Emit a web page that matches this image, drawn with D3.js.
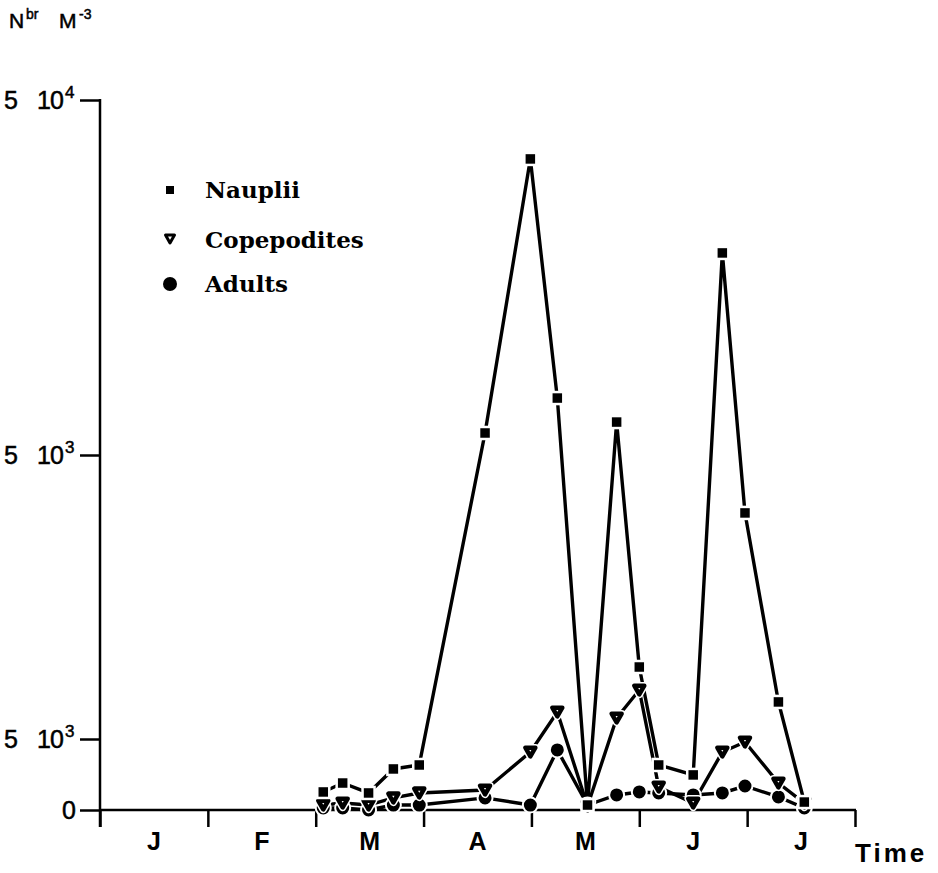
<!DOCTYPE html>
<html><head><meta charset="utf-8">
<script src="https://cdn.jsdelivr.net/npm/d3@7"></script>
<style>body{margin:0;background:#fff}</style>
</head><body>
<svg id="c" width="938" height="873"></svg>
<script>
const monthLabels = ["J","F","M","A","M","J","J"];
// sampling dates in fractional months from 1 January
const sampleTimes = [2.07,2.25,2.49,2.72,2.96,3.57,3.99,4.24,4.52,4.79,5.00,5.18,5.50,5.77,5.98,6.29,6.53];
const nauplii     = [1270,1900,1200,2890,3170,26550,45850,29010,350,27320,10070,3170,2470,39230,20920,7610,560];
const copepodites = [350,490,350,850,1200,1410,4080,6900,280,6480,8450,1620,490,4080,4790,1900,490];
const adults      = [140,140,0,350,350,850,350,4230,350,1060,1270,1200,1060,1200,1690,920,140];
const yTicks = [0,5000,25000,50000];
const yTickLabels = [["","0",""],["5","10","3"],["5","10","3"],["5","10","4"]];
const seriesNames = ["Nauplii","Copepodites","Adults"];

const svg = d3.select("#c");
const x = d3.scaleLinear().domain([0,7]).range([100,855]);
const y = d3.scaleLinear().domain([0,50000]).range([810,100]);
const sans = "'Liberation Sans', Arial, sans-serif";

// axes
const yAxis = d3.axisLeft(y).tickValues(yTicks).tickSize(20).tickFormat("");
const gy = svg.append("g").attr("transform","translate(100,0)").call(yAxis);
gy.select(".domain").remove();
gy.selectAll(".tick line").attr("stroke","#000").attr("stroke-width",2.5);
svg.append("line").attr("x1",100).attr("x2",100).attr("y1",y(50000)-1).attr("y2",827)
  .attr("stroke","#000").attr("stroke-width",2.5);

const xAxis = d3.axisBottom(x).tickValues(d3.range(0,8)).tickSize(17).tickFormat("");
const gx = svg.append("g").attr("transform","translate(0,810)").call(xAxis);
gx.select(".domain").remove();
gx.selectAll(".tick line").attr("stroke","#000").attr("stroke-width",2.5);
svg.append("line").attr("x1",100).attr("x2",x(7)+1).attr("y1",810).attr("y2",810)
  .attr("stroke","#000").attr("stroke-width",2.5);

// y tick labels
const lab = svg.append("g").attr("stroke","#000").attr("stroke-width",0.5);
yTicks.forEach((t,i)=>{
  const [a,b,c] = yTickLabels[i];
  const base = y(t)+9;
  if (a) lab.append("text").attr("x",4).attr("y",base).attr("font-family",sans).attr("font-size",25).text(a);
  if (c) {
    lab.append("text").attr("x",37).attr("y",base).attr("font-family",sans).attr("font-size",25)
      .attr("letter-spacing",-1).text(b);
    lab.append("text").attr("x",65).attr("y",base-11).attr("font-family",sans).attr("font-size",17).text(c);
  } else {
    lab.append("text").attr("x",76).attr("y",base).attr("text-anchor","end").attr("font-family",sans).attr("font-size",25).text(b);
  }
});

// month labels
monthLabels.forEach((m,i)=>{
  svg.append("text").attr("x",x(i+0.5)).attr("y",850).attr("text-anchor","middle")
    .attr("font-family",sans).attr("font-weight","bold").attr("font-size",25).text(m);
});
svg.append("text").attr("x",855).attr("y",862).attr("font-family",sans).attr("font-weight","bold")
  .attr("font-size",26).attr("letter-spacing",3).text("Time");

// y title
lab.append("text").attr("x",9).attr("y",28).attr("font-family",sans).attr("font-size",21).text("N");
lab.append("text").attr("x",26).attr("y",19).attr("font-family",sans).attr("font-size",14).text("br");
lab.append("text").attr("x",59).attr("y",28).attr("font-family",sans).attr("font-size",21).text("M");
lab.append("text").attr("x",79).attr("y",19).attr("font-family",sans).attr("font-size",14).text("-3");

// lines
const line = d3.line().x(d=>x(d[0])).y(d=>y(d[1]));
[nauplii,copepodites,adults].forEach(vals=>{
  svg.append("path").datum(sampleTimes.map((t,i)=>[t,vals[i]]))
    .attr("d",line).attr("fill","none").attr("stroke","#000").attr("stroke-width",3.4);
});

// markers
function square(g,cx,cy,s,halo){
  g.append("rect").attr("x",cx-s/2).attr("y",cy-s/2).attr("width",s).attr("height",s)
   .attr("fill","#000").attr("stroke","#fff").attr("stroke-width",halo);
}
function tri(g,cx,cy,s,halo,sw){
  const h = s*0.87;
  const p = `M${cx-s/2},${cy-h/2}L${cx+s/2},${cy-h/2}L${cx},${cy+h/2}Z`;
  if (halo) g.append("path").attr("d",p).attr("fill","#fff").attr("stroke","#fff").attr("stroke-width",halo+sw).attr("stroke-linejoin","round");
  g.append("path").attr("d",p).attr("fill","#fff").attr("stroke","#000").attr("stroke-width",sw).attr("stroke-linejoin","round");
}
function circ(g,cx,cy,r,halo){
  g.append("circle").attr("cx",cx).attr("cy",cy).attr("r",r).attr("fill","#000")
   .attr("stroke","#fff").attr("stroke-width",halo);
}
const gm = svg.append("g");
sampleTimes.forEach((t,i)=>circ(gm,x(t),y(adults[i]),7.5,2));
sampleTimes.forEach((t,i)=>tri(gm,x(t),y(copepodites[i]),10,3,4.5));
sampleTimes.forEach((t,i)=>square(gm,x(t),y(nauplii[i]),12,2.5));

// legend
const serif = "'DejaVu Serif', serif";
const legY = [190,240,284];
square(svg,170,legY[0],8,0);
tri(svg,170,legY[1]-1,9,0,3);
circ(svg,170,legY[2],7,0);
seriesNames.forEach((n,i)=>{
  svg.append("text").attr("x",205).attr("y",legY[i]+8).attr("font-family",serif)
    .attr("font-weight","bold").attr("font-size",23).text(n);
});
</script>
</body></html>
